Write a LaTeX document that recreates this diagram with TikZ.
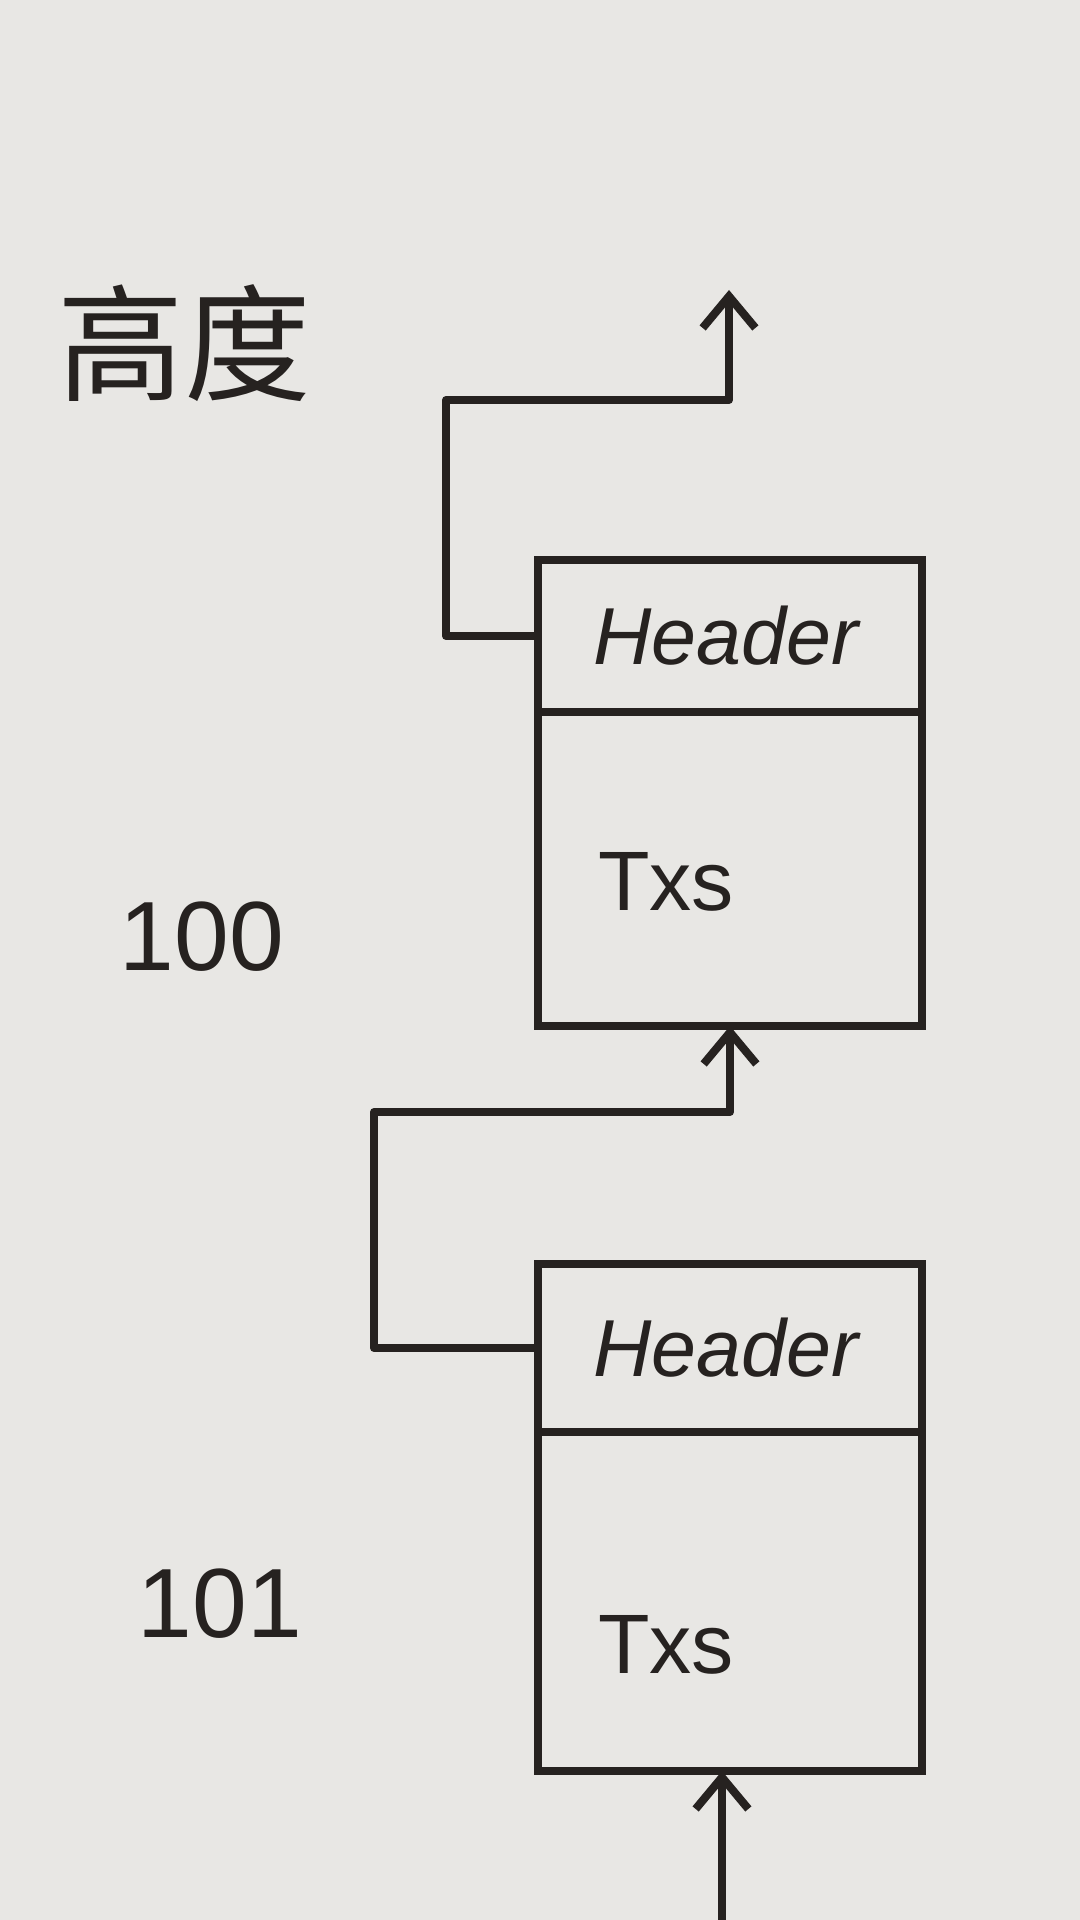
\documentclass[tikz,border=0pt]{standalone}
\usepackage{fontspec}
\setmainfont{Liberation Sans}
\newfontfamily\cjkfont{Noto Sans CJK SC}
\usetikzlibrary{arrows.meta, positioning, calc}
\usepackage{xcolor}
\definecolor{paper}{RGB}{232,231,228}
\definecolor{ink}{RGB}{38,34,32}

\begin{document}
\begin{tikzpicture}[
  hdr/.style = {draw=ink, line width=2.3pt, outer sep=0pt, minimum width=3.84cm,
                minimum height=1.52cm, text width=2.74cm, inner xsep=0.55cm, align=left,
                text=ink, font=\fontsize{23}{28}\selectfont\itshape},
  txs/.style = {draw=ink, line width=2.3pt, outer sep=0pt, minimum width=3.84cm,
                minimum height=3.14cm, text width=2.64cm, inner xsep=0.6cm, align=left,
                text=ink, font=\fontsize{24}{28}\selectfont},
  lbl/.style = {text=ink, font=\fontsize{28}{32}\selectfont},
  arr/.style = {-{Straight Barb[length=9pt,width=15pt]}, line width=2.3pt, draw=ink,
                line join=round},
]

% ── Page ─────────────────────────────────────────────────────────────────────
\fill[paper] (0,0) rectangle (10.8,-19.2);
\useasboundingbox (0,0) rectangle (10.8,-19.2);

\node[text=ink, font=\cjkfont\fontsize{36}{40}\selectfont] (height) at (1.84,-3.43) {高度};

% ── Block 100 ────────────────────────────────────────────────────────────────
\node[hdr] (hdr100) at (7.30,-6.36) {Header};
\node[txs, text height=0.84cm, below=0pt of hdr100] (txs100) {Txs};
\node[lbl] (h100) at (2.02,-9.37) {100};

% ── Block 101 ────────────────────────────────────────────────────────────────
\node[hdr, minimum height=1.68cm, below=2.38cm of txs100] (hdr101) {Header};
\node[txs, minimum height=3.39cm, text height=1.45cm, below=0pt of hdr101] (txs101) {Txs};
\node[lbl] (h101) at (2.20,-16.04) {101};

% ── Links ────────────────────────────────────────────────────────────────────
\coordinate (out100) at (7.29,-2.90);
\coordinate (in101) at (7.22,-19.2);

\draw[arr] (hdr100.west) -- ++(-0.92,0) -- ++(0,2.36) -| (out100);
\draw[arr] (hdr101.west) -- ++(-1.64,0) -- ++(0,2.36) -| (txs100.south);
\draw[arr] (in101) -- (in101 |- txs101.south);

\end{tikzpicture}
\end{document}
